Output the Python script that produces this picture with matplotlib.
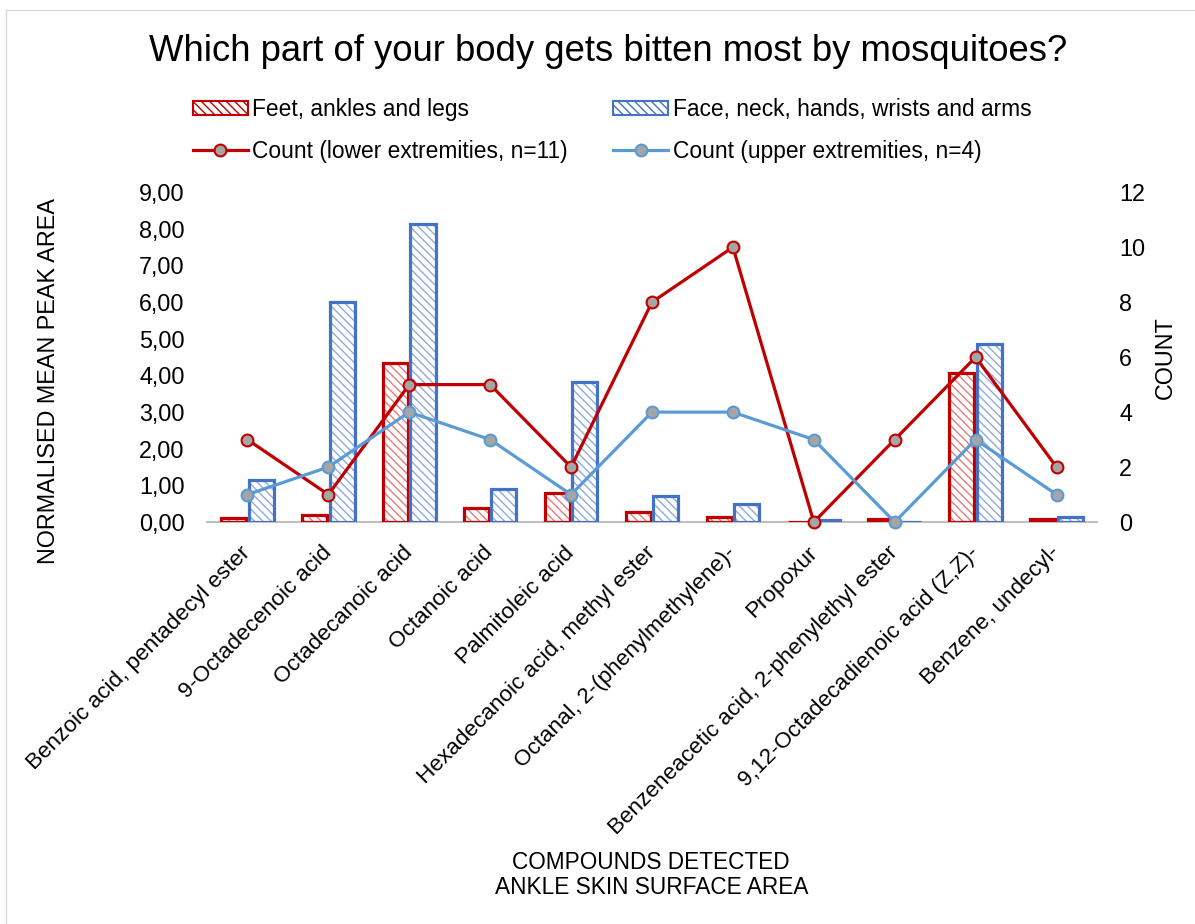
import matplotlib
matplotlib.use("Agg")
import matplotlib.pyplot as plt
from matplotlib.patches import Patch
from matplotlib.lines import Line2D
import numpy as np

plt.rcParams['font.family'] = ['Liberation Sans', 'DejaVu Sans']
plt.rcParams['hatch.linewidth'] = 1.0

compounds = [
    "Benzoic acid, pentadecyl ester",
    "9-Octadecenoic acid",
    "Octadecanoic acid",
    "Octanoic acid",
    "Palmitoleic acid",
    "Hexadecanoic acid, methyl ester",
    "Octanal, 2-(phenylmethylene)-",
    "Propoxur",
    "Benzeneacetic acid, 2-phenylethyl ester",
    "9,12-Octadecadienoic acid (Z,Z)-",
    "Benzene, undecyl-",
]
feet_area = [0.12, 0.18, 4.33, 0.38, 0.79, 0.28, 0.13, 0.0, 0.08, 4.07, 0.08]
face_area = [1.16, 6.00, 8.14, 0.91, 3.82, 0.70, 0.49, 0.05, 0.0, 4.85, 0.15]
count_lower = [3, 1, 5, 5, 2, 8, 10, 0, 3, 6, 2]
count_upper = [1, 2, 4, 3, 1, 4, 4, 3, 0, 3, 1]
left_ticks = [0, 1, 2, 3, 4, 5, 6, 7, 8, 9]
right_ticks = [0, 2, 4, 6, 8, 10, 12]

red = "#c00000"
red_hatch = "#e47c7c"
blue = "#4472c4"
blue_hatch = "#8eaadb"
line_blue = "#5b9bd5"
marker_gray = "#a5a5a5"
fs = 16.8

fig = plt.figure(figsize=(11.95, 9.24), dpi=100)
ax = fig.add_axes([0.1732, 0.435, 0.7448, 0.357])
x = np.arange(len(compounds))
w = 0.31
gap = 0.015

for vals, off, edge, hcol in [(feet_area, -(w / 2 + gap), red, red_hatch),
                              (face_area, (w / 2 + gap), blue, blue_hatch)]:
    ax.bar(x + off, vals, w, color="white", edgecolor=hcol, hatch="\\\\\\\\",
           linewidth=0, zorder=2)
    ax.bar(x + off, vals, w, fill=False, edgecolor=edge, linewidth=2.3, zorder=3)

ax.set_xlim(-0.5, len(compounds) - 0.5)
ax.set_ylim(0, 9)
ax.set_yticks(left_ticks)
ax.set_yticklabels([f"{v:.2f}".replace(".", ",") for v in left_ticks], fontsize=fs)
ax.set_xticks(x)
ax.set_xticklabels(compounds, rotation=45, ha="right", va="center",
                   rotation_mode="anchor", fontsize=16.2)
ax.tick_params(axis="both", length=0)
ax.tick_params(axis="y", pad=16)
ax.tick_params(axis="x", pad=20)
for s in ["top", "right", "left"]:
    ax.spines[s].set_visible(False)
ax.spines["bottom"].set_color("#bfbfbf")
ax.spines["bottom"].set_linewidth(1.5)
ax.set_ylabel("NORMALISED MEAN PEAK AREA", fontsize=fs)
ax.yaxis.set_label_coords(-0.165, 0.427)

ax2 = ax.twinx()
ax2.set_ylim(0, 12)
ax2.set_yticks(right_ticks)
ax2.set_yticklabels([str(v) for v in right_ticks], fontsize=fs)
ax2.tick_params(axis="y", length=0, pad=16)
for s in ["top", "right", "left", "bottom"]:
    ax2.spines[s].set_visible(False)
ax2.plot(x, count_lower, color=red, lw=2.3, marker="o", ms=8.5,
         mfc=marker_gray, mec=red, mew=1.5, zorder=4, clip_on=False)
ax2.plot(x, count_upper, color=line_blue, lw=2.3, marker="o", ms=8.5,
         mfc=marker_gray, mec=line_blue, mew=1.5, zorder=4, clip_on=False)
ax2.set_ylabel("COUNT", fontsize=fs, labelpad=6)

fig.text(0.509, 0.944, "Which part of your body gets bitten most by mosquitoes?",
         ha="center", va="center", fontsize=26.3)
fig.text(0.545, 0.053, "COMPOUNDS DETECTED\nANKLE SKIN SURFACE AREA",
         ha="center", va="center", fontsize=16.3, linespacing=1.12)

handles = [
    Patch(facecolor="white", edgecolor=red, hatch="\\\\\\\\", lw=1.5),
    Line2D([], [], color=red, lw=2.3, marker="o", ms=8.5, mfc=marker_gray, mec=red, mew=1.5),
    Patch(facecolor="white", edgecolor=blue, hatch="\\\\\\\\", lw=1.5),
    Line2D([], [], color=line_blue, lw=2.3, marker="o", ms=8.5, mfc=marker_gray, mec=line_blue, mew=1.5),
]
labels = ["Feet, ankles and legs", "Count (lower extremities, n=11)",
          "Face, neck, hands, wrists and arms", "Count (upper extremities, n=4)"]
fig.legend(handles, labels, ncol=2, loc="upper left", bbox_to_anchor=(0.152, 0.906),
           frameon=False, fontsize=16.4, handlelength=2.4, handleheight=0.6,
           handletextpad=0.2, columnspacing=2.0, labelspacing=0.82, borderpad=0)

# thin frame lines along the top and left edge
fig.add_artist(Line2D([0.005, 0.005], [0, 0.989], color="#d9d9d9", lw=1, transform=fig.transFigure))
fig.add_artist(Line2D([0.005, 1], [0.989, 0.989], color="#d9d9d9", lw=1, transform=fig.transFigure))

fig.savefig("out.png", dpi=100)
